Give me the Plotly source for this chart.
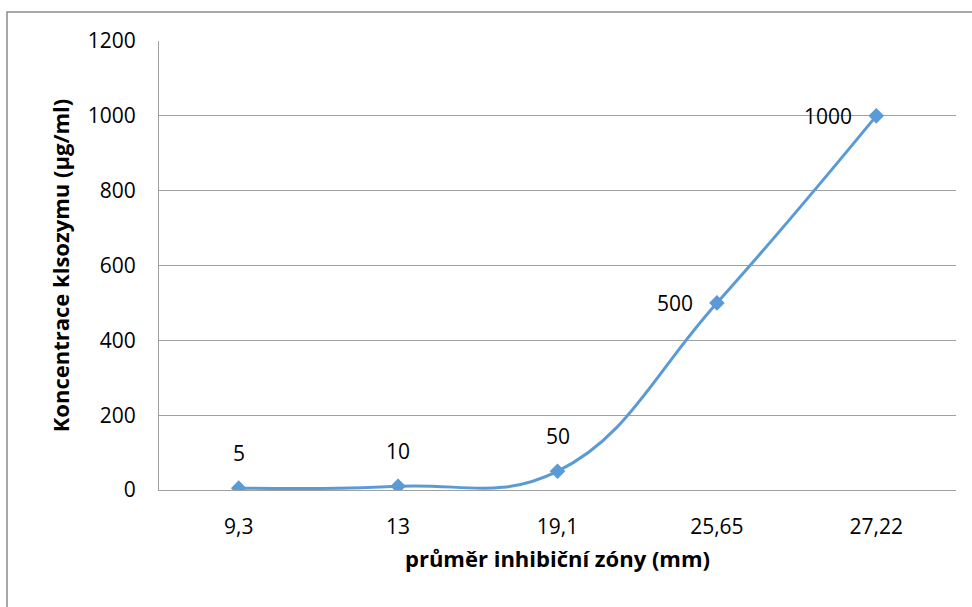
import plotly.graph_objects as go

# Inhibition zone diameter (mm) vs. lysozyme concentration (µg/ml)
zone_labels = ["9,3", "13", "19,1", "25,65", "27,22"]
concentration = [5, 10, 50, 500, 1000]
y_ticks = [0, 200, 400, 600, 800, 1000, 1200]

FONT = "Open Sans"
LINE_BLUE = "#5B9BD5"
GRID = "#A0A0A0"

xpos = list(range(len(zone_labels)))

fig = go.Figure()
fig.add_trace(go.Scatter(
    x=xpos, y=concentration,
    mode="lines+markers",
    line=dict(color=LINE_BLUE, width=3, shape="spline", smoothing=1.2),
    marker=dict(symbol="diamond", size=12, color=LINE_BLUE),
    showlegend=False, hoverinfo="skip",
))

# value labels: above the low points, to the left of the high ones
for i, v in enumerate(concentration):
    if v < 100:
        fig.add_annotation(x=xpos[i], y=v, text=str(v), showarrow=False,
                           xanchor="center", yanchor="middle", yshift=35,
                           font=dict(family=FONT, size=21, color="#000"))
    else:
        fig.add_annotation(x=xpos[i], y=v, text=str(v), showarrow=False,
                           xanchor="right", yanchor="middle", xshift=-22,
                           font=dict(family=FONT, size=21, color="#000"))

# outer chart border
L, R, T, B = 159, 956, 41, 490
pw, ph = R - L, B - T
fig.add_shape(type="rect", xref="paper", yref="paper",
              x0=(7 - L) / pw, x1=(990 - L) / pw,
              y0=(B - 640) / ph, y1=(B - 12) / ph,
              line=dict(color="#8C8C8C", width=1.5), fillcolor="rgba(0,0,0,0)",
              layer="below")

fig.update_layout(
    width=972, height=607,
    margin=dict(l=L, r=972 - R, t=T, b=607 - B),
    paper_bgcolor="white", plot_bgcolor="white",
    font=dict(family=FONT, size=21, color="#000"),
    xaxis=dict(
        range=[-0.5, len(zone_labels) - 0.5],
        tickmode="array", tickvals=xpos, ticktext=zone_labels,
        showgrid=False, zeroline=False,
        showline=True, linecolor=GRID, linewidth=1,
        ticks="", ticklabelstandoff=18,
        tickfont=dict(family=FONT, size=21),
        title=dict(text="<b>průměr inhibiční zóny (mm)</b>", standoff=12,
                   font=dict(family=FONT, size=22)),
    ),
    yaxis=dict(
        range=[0, 1200],
        tickmode="array", tickvals=y_ticks,
        showgrid=True, gridcolor=GRID, gridwidth=1,
        zeroline=False,
        showline=True, linecolor=GRID, linewidth=1,
        ticks="", ticklabelstandoff=18,
        tickfont=dict(family=FONT, size=21),
        title=dict(text="<b>Koncentrace klsozymu (µg/ml)</b>", standoff=12,
                   font=dict(family=FONT, size=22)),
    ),
)

fig.write_html("out.html")
